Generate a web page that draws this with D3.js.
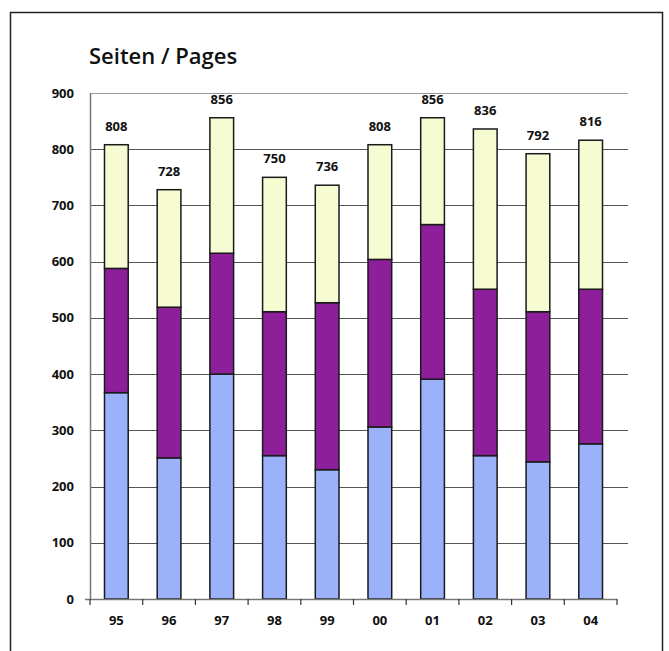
<!DOCTYPE html>
<meta charset="utf-8">
<head>
<title>Seiten / Pages</title>
<style>
body { margin: 0; background: #fff; }
text { font-family: "Open Sans", "Noto Sans", sans-serif; }
.tick-label { font-size: 13px; font-weight: 700; fill: #111; }
</style>
</head>
<body>
<script src="https://d3js.org/d3.v7.min.js"></script>
<div id="chart"></div>
<script>

  // data
  var years  = ["95", "96", "97", "98", "99", "00", "01", "02", "03", "04"];
  var blue   = [367, 251, 400, 255, 230, 306, 391, 255, 244, 276];
  var purple = [221, 268, 215, 256, 297, 298, 275, 296, 267, 275];
  var yellow = [220, 209, 241, 239, 209, 204, 190, 285, 281, 265];
  var totals = [808, 728, 856, 750, 736, 808, 856, 836, 792, 816];
  var yTicks = [0, 100, 200, 300, 400, 500, 600, 700, 800, 900];

  var width = 669,
      height = 651;

  var colors = ["#9bb2fa", "#8d1f9b", "#f7fbd2"];

  var svg = d3.select("#chart").append("svg")
      .attr("width", width)
      .attr("height", height);

  // outer frame
  svg.append("rect")
      .attr("x", 10.5).attr("y", 12.5)
      .attr("width", 652).attr("height", 660)
      .attr("fill", "none")
      .attr("stroke", "#222")
      .attr("stroke-width", 1.5);

  svg.append("text")
      .attr("x", 89).attr("y", 64)
      .style("font-size", "22px")
      .style("font-weight", 600)
      .attr("fill", "#111")
      .text("Seiten / Pages");

  var x = d3.scaleBand()
      .domain(years)
      .range([90, 617])
      .paddingInner(0.55)
      .paddingOuter(0.275);

  var y = d3.scaleLinear()
      .domain([0, 900])
      .range([599, 93]);

  // grid
  svg.append("g").selectAll("line")
      .data(yTicks.slice(1))
      .enter().append("line")
      .attr("x1", 90).attr("x2", 628)
      .attr("y1", function(d) { return Math.round(y(d)) + 0.5; })
      .attr("y2", function(d) { return Math.round(y(d)) + 0.5; })
      .attr("stroke", function(d) { return d === 900 ? "#999" : "#555"; })
      .attr("stroke-width", 1);

  // y labels
  svg.append("g").selectAll("text")
      .data(yTicks)
      .enter().append("text")
      .attr("class", "tick-label")
      .attr("x", 74)
      .attr("y", function(d) { return y(d); })
      .attr("dy", "0.35em")
      .attr("text-anchor", "end")
      .text(function(d) { return d; });

  // stacked bars
  var rows = years.map(function(yr, i) {
    return { year: yr, blue: blue[i], purple: purple[i], yellow: yellow[i] };
  });
  var stack = d3.stack().keys(["blue", "purple", "yellow"]);
  var layers = stack(rows);

  svg.append("g").selectAll("g")
      .data(layers)
      .enter().append("g")
      .attr("fill", function(d, i) { return colors[i]; })
    .selectAll("rect")
      .data(function(d) { return d; })
      .enter().append("rect")
      .attr("x", function(d) { return x(d.data.year); })
      .attr("y", function(d) { return y(d[1]); })
      .attr("width", x.bandwidth())
      .attr("height", function(d) { return y(d[0]) - y(d[1]); })
      .attr("stroke", "#1a1a1a")
      .attr("stroke-width", 1.5);

  // total labels
  svg.append("g").selectAll("text")
      .data(totals)
      .enter().append("text")
      .attr("class", "tick-label")
      .attr("x", function(d, i) { return x(years[i]) + x.bandwidth() / 2; })
      .attr("y", function(d) { return y(d) - 14; })
      .attr("text-anchor", "middle")
      .text(function(d) { return d; });

  // axes lines
  svg.append("line")
      .attr("x1", 90.5).attr("x2", 90.5)
      .attr("y1", 93).attr("y2", 599)
      .attr("stroke", "#777").attr("stroke-width", 1.5);

  svg.append("line")
      .attr("x1", 85).attr("x2", 617)
      .attr("y1", 599.5).attr("y2", 599.5)
      .attr("stroke", "#777").attr("stroke-width", 1.5);

  // x ticks at band boundaries
  var bounds = years.map(function(d) { return x(d) - x.step() * x.paddingInner() / 2; });
  bounds.push(617);
  svg.append("g").selectAll("line")
      .data(bounds)
      .enter().append("line")
      .attr("x1", function(d) { return d; })
      .attr("x2", function(d) { return d; })
      .attr("y1", 599).attr("y2", 605)
      .attr("stroke", "#333").attr("stroke-width", 1.2);

  svg.append("g").selectAll("text")
      .data(years)
      .enter().append("text")
      .attr("class", "tick-label")
      .attr("x", function(d) { return x(d) + x.bandwidth() / 2; })
      .attr("y", 625)
      .attr("text-anchor", "middle")
      .text(function(d) { return d; });

</script>
</body>
